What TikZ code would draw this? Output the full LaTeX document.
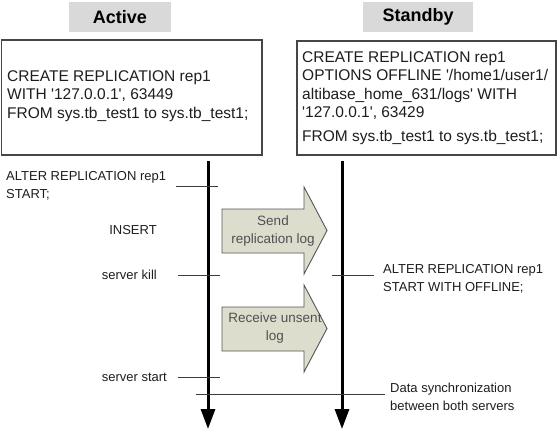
\documentclass[tikz,border=0pt]{standalone}
\usepackage{fontspec}
\setmainfont{Liberation Sans}
\usetikzlibrary{arrows.meta}
\definecolor{titlefill}{RGB}{217,217,217}
\definecolor{boxline}{RGB}{70,70,70}
\definecolor{arrowfill}{RGB}{221,221,206}
\definecolor{arrowline}{RGB}{85,85,85}
\definecolor{ticklinec}{RGB}{60,60,60}
\definecolor{txtc}{RGB}{30,30,30}
\definecolor{arrtxt}{RGB}{80,80,80}
\newcommand{\sq}{\textquotesingle}
\tikzset{
  titlebox/.style={fill=titlefill, minimum height=30pt, inner sep=0pt, font=\fontsize{18}{20}\selectfont\bfseries, text=black},
  sqlbox/.style={draw=boxline, line width=1.3pt},
  sqltext/.style={align=left, inner sep=0pt, font=\fontsize{15.5}{18.6}\selectfont, text=txtc},
  tltext/.style={align=left, inner sep=0pt, font=\fontsize{13}{18.5}\selectfont, text=txtc},
  timeline/.style={line width=3pt, -{Triangle[length=20pt,width=14pt]}},
  tickline/.style={draw=ticklinec, line width=0.9pt},
  blockarrow/.style={fill=arrowfill, draw=arrowline, line width=0.9pt, line join=miter},
  arrtext/.style={align=center, inner sep=0pt, font=\fontsize{13.5}{18}\selectfont, text=arrtxt}
}
\begin{document}
\begin{tikzpicture}[x=1pt,y=-1pt]
\useasboundingbox (0,0) rectangle (559,431);
\fill[white] (0,0) rectangle (559,431);

% titles
\node[titlebox, minimum width=102pt] (active) at (120,17) {Active};
\node[titlebox, minimum width=110pt] (standby) at (418,17) {Standby};

% SQL boxes
\draw[sqlbox] (1.5,40) rectangle (262,155);
\draw[sqlbox] (297,41) rectangle (556,155);
\node[sqltext, anchor=west] (sqlA) at (7,96) {CREATE REPLICATION rep1\\WITH \sq127.0.0.1\sq, 63449\\FROM sys.tb\_test1 to sys.tb\_test1;};
\node[sqltext, anchor=west] (sqlB) at (302,98) {CREATE REPLICATION rep1\\OPTIONS OFFLINE \sq/home1/user1/\\altibase\_home\_631/logs\sq{} WITH\\\sq127.0.0.1\sq, 63429\\[5pt]FROM sys.tb\_test1 to sys.tb\_test1;};

% timelines
\coordinate (ta) at (208,161);
\coordinate (ba) at (208,429);
\coordinate (tb) at (342,161);
\coordinate (bb) at (342,429);
\draw[timeline] (ta) -- (ba);
\draw[timeline] (tb) -- (bb);

% ticks
\coordinate (k1a) at (176,186); \coordinate (k1b) at (218,186);
\coordinate (k2a) at (178,275); \coordinate (k2b) at (220,275);
\coordinate (k3a) at (178,377); \coordinate (k3b) at (220,377);
\coordinate (k4a) at (332,275); \coordinate (k4b) at (374,275);
\coordinate (k5a) at (196,394); \coordinate (k5b) at (385,394);
\draw[tickline] (k1a) -- (k1b);
\draw[tickline] (k2a) -- (k2b);
\draw[tickline] (k3a) -- (k3b);
\draw[tickline] (k4a) -- (k4b);
\draw[tickline] (k5a) -- (k5b);

% timeline labels
\node[tltext, anchor=west] (alterA) at (6,186) {ALTER REPLICATION rep1\\START;};
\node[tltext] (insert) at (133,230) {INSERT};
\node[tltext, anchor=east] (kill) at (157,275) {server kill};
\node[tltext, anchor=east] (sstart) at (167,377) {server start};
\node[tltext, anchor=west] (alterB) at (383,279) {ALTER REPLICATION rep1\\START WITH OFFLINE;};
\node[tltext, anchor=west] (sync) at (390,397) {Data synchronization\\between both servers};

% block arrows
\draw[blockarrow] (222,209) -- (304,209) -- (304,187) -- (327,230.5) -- (304,274) -- (304,253) -- (222,253) -- cycle;
\draw[blockarrow] (222,307) -- (304,307) -- (304,285) -- (327,328.5) -- (304,372) -- (304,351) -- (222,351) -- cycle;
\node[arrtext] (send) at (273,231) {Send\\replication log};
\node[arrtext] (recv) at (275,328) {Receive unsent\\log};
\end{tikzpicture}
\end{document}
